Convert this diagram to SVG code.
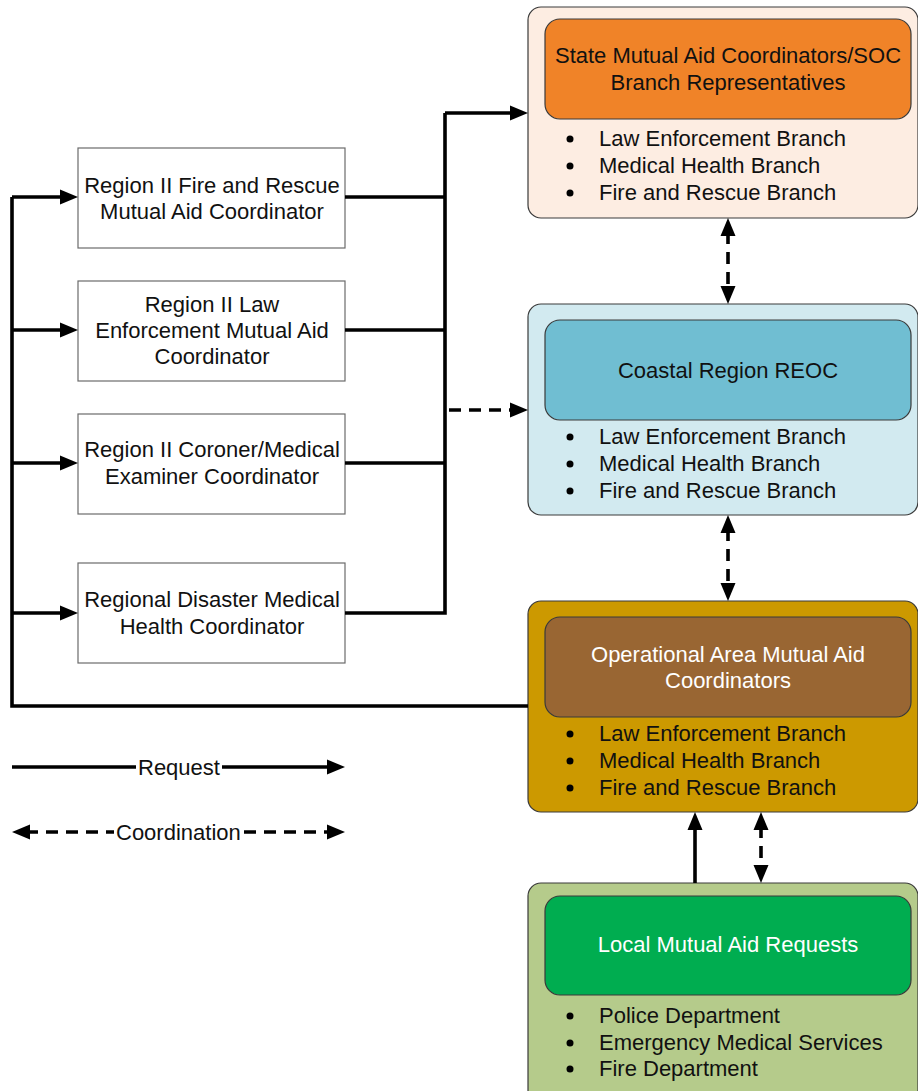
<svg xmlns="http://www.w3.org/2000/svg" width="918" height="1091" viewBox="0 0 918 1091">
  <defs>
    <style>
      text { font-family: "Liberation Sans", Arial, sans-serif; font-size: 22px; fill: #111; }
      .c { text-anchor: middle; }
      .w { fill: #ffffff; }
      .coord { fill: #ffffff; stroke: #6b6b6b; stroke-width: 1.2; }
      .outer { stroke: #3a3a3a; stroke-width: 1.2; }
      .inner { stroke: #3a3a3a; stroke-width: 1.2; }
      .ln { fill: none; stroke: #000; stroke-width: 3.6; }
      .dash { stroke-dasharray: 12 8; }
      .dot { fill: #000; }
    </style>
    <marker id="ah" markerUnits="userSpaceOnUse" markerWidth="19" markerHeight="18" viewBox="0 0 19 18" refX="4" refY="9" orient="auto-start-reverse">
      <path d="M0,1.5 L18,9 L0,16.5 z" fill="#000"/>
    </marker>
  </defs>

  <rect width="918" height="1091" fill="#ffffff"/>

  <!-- regional coordinators -->
  <g id="fire-rescue">
    <rect class="coord" x="78" y="148" width="267" height="100"/>
    <text class="c" x="212" y="193">Region II Fire and Rescue</text>
    <text class="c" x="212" y="219">Mutual Aid Coordinator</text>
  </g>
  <g id="law-enforcement">
    <rect class="coord" x="78" y="281" width="267" height="100"/>
    <text class="c" x="212" y="312">Region II Law</text>
    <text class="c" x="212" y="338">Enforcement Mutual Aid</text>
    <text class="c" x="212" y="364">Coordinator</text>
  </g>
  <g id="coroner">
    <rect class="coord" x="78" y="414" width="267" height="100"/>
    <text class="c" x="212" y="457">Region II Coroner/Medical</text>
    <text class="c" x="212" y="484">Examiner Coordinator</text>
  </g>
  <g id="medical-health">
    <rect class="coord" x="78" y="563" width="267" height="100"/>
    <text class="c" x="212" y="607">Regional Disaster Medical</text>
    <text class="c" x="212" y="634">Health Coordinator</text>
  </g>

  <!-- state level -->
  <g id="state">
    <rect class="outer" x="528" y="7" width="390" height="211" rx="13" fill="#FDEDE2"/>
    <rect class="inner" x="545" y="19" width="366" height="100" rx="15" fill="#F08328"/>
    <text class="c" x="728" y="63">State Mutual Aid Coordinators/SOC</text>
    <text class="c" x="728" y="90">Branch Representatives</text>
    <circle class="dot" cx="570" cy="139" r="3.5"/>
    <circle class="dot" cx="570" cy="166" r="3.5"/>
    <circle class="dot" cx="570" cy="193" r="3.5"/>
    <text x="599" y="146">Law Enforcement Branch</text>
    <text x="599" y="173">Medical Health Branch</text>
    <text x="599" y="200">Fire and Rescue Branch</text>
  </g>

  <!-- regional EOC -->
  <g id="reoc">
    <rect class="outer" x="528" y="304" width="390" height="211" rx="13" fill="#D2EAF0"/>
    <rect class="inner" x="545" y="320" width="366" height="100" rx="15" fill="#70BED2"/>
    <text class="c" x="728" y="378">Coastal Region REOC</text>
    <circle class="dot" cx="570" cy="437" r="3.5"/>
    <circle class="dot" cx="570" cy="464" r="3.5"/>
    <circle class="dot" cx="570" cy="491" r="3.5"/>
    <text x="599" y="444">Law Enforcement Branch</text>
    <text x="599" y="471">Medical Health Branch</text>
    <text x="599" y="498">Fire and Rescue Branch</text>
  </g>

  <!-- operational area -->
  <g id="op-area">
    <rect class="outer" x="528" y="601" width="390" height="211" rx="13" fill="#CC9900"/>
    <rect class="inner" x="545" y="617" width="366" height="100" rx="15" fill="#996633"/>
    <text class="c w" x="728" y="662">Operational Area Mutual Aid</text>
    <text class="c w" x="728" y="688">Coordinators</text>
    <circle class="dot" cx="570" cy="734" r="3.5"/>
    <circle class="dot" cx="570" cy="761" r="3.5"/>
    <circle class="dot" cx="570" cy="788" r="3.5"/>
    <text x="599" y="741">Law Enforcement Branch</text>
    <text x="599" y="768">Medical Health Branch</text>
    <text x="599" y="795">Fire and Rescue Branch</text>
  </g>

  <!-- local level -->
  <g id="local">
    <rect class="outer" x="528" y="883" width="390" height="220" rx="13" fill="#B5CB8B"/>
    <rect class="inner" x="545" y="896" width="366" height="99" rx="15" fill="#00AD50"/>
    <text class="c w" x="728" y="952">Local Mutual Aid Requests</text>
    <circle class="dot" cx="570" cy="1016" r="3.5"/>
    <circle class="dot" cx="570" cy="1043" r="3.5"/>
    <circle class="dot" cx="570" cy="1069" r="3.5"/>
    <text x="599" y="1023">Police Department</text>
    <text x="599" y="1050">Emergency Medical Services</text>
    <text x="599" y="1076">Fire Department</text>
  </g>

  <!-- connectors -->
  <g id="connectors">
    <!-- request bus from the operational area to the regional coordinators -->
    <path class="ln" d="M528,706 H12 V197"/>
    <path class="ln" d="M12,197 H64" marker-end="url(#ah)"/>
    <path class="ln" d="M12,330 H64" marker-end="url(#ah)"/>
    <path class="ln" d="M12,463 H64" marker-end="url(#ah)"/>
    <path class="ln" d="M12,613 H64" marker-end="url(#ah)"/>

    <!-- regional coordinators up to state -->
    <path class="ln" d="M345,197 H445"/>
    <path class="ln" d="M345,330 H445"/>
    <path class="ln" d="M345,463 H445"/>
    <path class="ln" d="M345,613 H445 V113"/>
    <path class="ln" d="M445,113 H514" marker-end="url(#ah)"/>
    <path class="ln dash" d="M449,410 H514" marker-end="url(#ah)"/>

    <!-- vertical coordination links -->
    <path class="ln dash" d="M728,232 V290" marker-start="url(#ah)" marker-end="url(#ah)"/>
    <path class="ln dash" d="M728,529 V587" marker-start="url(#ah)" marker-end="url(#ah)"/>
    <path class="ln dash" d="M761,826 V869" marker-start="url(#ah)" marker-end="url(#ah)"/>

    <!-- local request up to operational area -->
    <path class="ln" d="M695,883 V826" marker-end="url(#ah)"/>
  </g>

  <!-- legend -->
  <g id="legend">
    <path class="ln" d="M12,767 H136"/>
    <text x="138" y="775">Request</text>
    <path class="ln" d="M222,767 H331" marker-end="url(#ah)"/>
    <path class="ln dash" d="M26,832 H114" marker-start="url(#ah)"/>
    <text x="116" y="840">Coordination</text>
    <path class="ln dash" d="M244,832 H331" marker-end="url(#ah)"/>
  </g>
</svg>
